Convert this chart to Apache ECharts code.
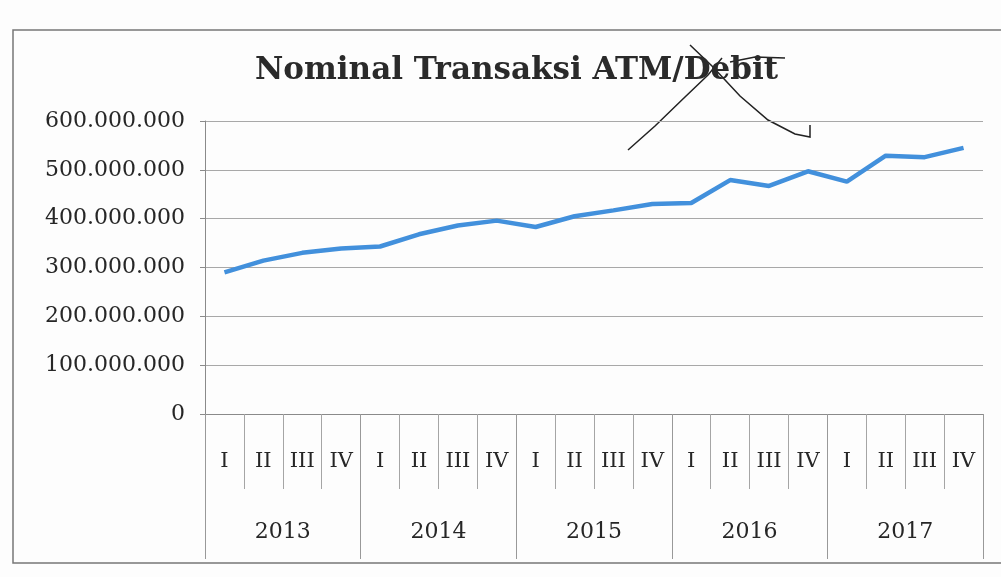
<!DOCTYPE html>
<html>
<head>
<meta charset="utf-8">
<script src="https://cdn.jsdelivr.net/npm/echarts@6/dist/echarts.min.js"></script>
<style>
  html, body { margin: 0; padding: 0; background: #fdfdfd; }
  #chart { width: 1001px; height: 577px; }
</style>
</head>
<body>
<div id="chart"></div>
<script>
const quarters = ['I', 'II', 'III', 'IV', 'I', 'II', 'III', 'IV', 'I', 'II', 'III', 'IV',
  'I', 'II', 'III', 'IV', 'I', 'II', 'III', 'IV'];
const years = ['2013', '2014', '2015', '2016', '2017'];
// nominal per quarter
const nominal = [
  290000000, 314000000, 330000000, 339000000,
  343000000, 368000000, 386000000, 396000000,
  383000000, 405000000, 417000000, 430000000,
  432000000, 479000000, 467000000, 497000000,
  476000000, 529000000, 526000000, 545000000
];
const yTicks = [0, 100000000, 200000000, 300000000, 400000000, 500000000, 600000000];

const serif = 'DejaVu Serif';
const dots = v => String(v).replace(/\B(?=(\d{3})+(?!\d))/g, '.');

const chart = echarts.init(document.getElementById('chart'));
const option = {
  backgroundColor: '#fdfdfd',
  animation: false,
  title: {
    text: 'Nominal Transaksi ATM/Debit',
    left: 255,
    top: 55,
    padding: 0,
    textStyle: { fontFamily: serif, fontWeight: 'bold', fontSize: 31, color: '#2a2a2a' }
  },
  grid: { left: 205, right: 18, top: 121, bottom: 163 },
  xAxis: [
    {
      type: 'category',
      data: quarters,
      position: 'bottom',
      axisLine: { show: true, lineStyle: { color: '#8a8a8a', width: 1 } },
      axisTick: { show: true, interval: 0, length: 75, lineStyle: { color: '#a5a5a5' } },
      axisLabel: { interval: 0, margin: 37, fontFamily: serif, fontSize: 21, color: '#262626' }
    },
    {
      type: 'category',
      data: years,
      position: 'bottom',
      axisLine: { show: false },
      axisTick: { show: true, interval: 0, length: 145, lineStyle: { color: '#999' } },
      axisLabel: { interval: 0, margin: 107, fontFamily: serif, fontSize: 22, color: '#262626' }
    }
  ],
  yAxis: {
    type: 'value',
    min: yTicks[0],
    max: yTicks[yTicks.length - 1],
    interval: yTicks[1] - yTicks[0],
    axisLine: { show: true, lineStyle: { color: '#8a8a8a' } },
    axisTick: { show: true, length: 5, lineStyle: { color: '#8a8a8a' } },
    axisLabel: { margin: 20, formatter: dots, fontFamily: serif, fontSize: 22, color: '#262626' },
    splitLine: { lineStyle: { color: '#a8a8a8', width: 1 } }
  },
  series: [{
    type: 'line',
    xAxisIndex: 0,
    data: nominal,
    symbol: 'none',
    lineStyle: { color: '#4290dc', width: 4.5 }
  }],
  graphic: [
    {
      type: 'rect',
      shape: { x: 13, y: 30, width: 1000, height: 533 },
      style: { fill: 'none', stroke: '#777', lineWidth: 1.5 },
      silent: true
    },
    {
      type: 'polyline',
      shape: { points: [[628, 150], [655, 126], [685, 97], [708, 75], [722, 58]] },
      style: { fill: 'none', stroke: '#222', lineWidth: 1.5 },
      silent: true
    },
    {
      type: 'polyline',
      shape: { points: [[690, 45], [712, 66], [740, 96], [768, 120], [795, 134], [810, 137], [810, 125]] },
      style: { fill: 'none', stroke: '#222', lineWidth: 1.5 },
      silent: true
    },
    {
      type: 'polyline',
      shape: { points: [[730, 62], [755, 57], [785, 58]] },
      style: { fill: 'none', stroke: '#222', lineWidth: 1.5 },
      silent: true
    }
  ]
};
option && chart.setOption(option);
</script>
</body>
</html>
